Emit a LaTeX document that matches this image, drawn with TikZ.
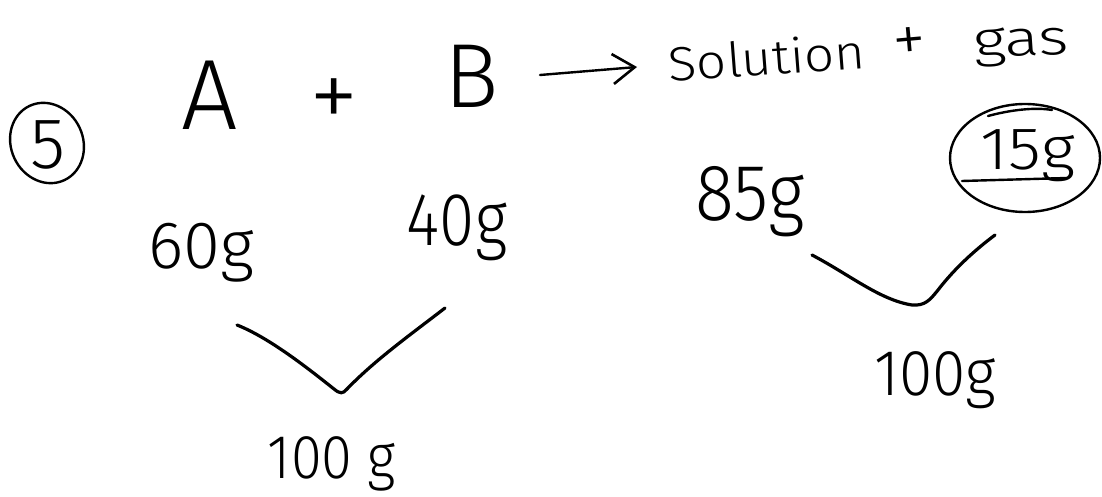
\documentclass[tikz,border=0pt]{standalone}
\usepackage{fontspec}
\setmainfont{Fira Sans}[UprightFont=* Light]
\usetikzlibrary{arrows.meta}
\newcommand\hwsize[1]{\fontsize{#1}{#1}\selectfont}
\tikzset{
  hw/.style={inner sep=0pt, outer sep=0pt, text=black},
  stroke/.style={line width=3.2pt, line cap=round, line join=round, black},
  thinstroke/.style={line width=2.4pt, line cap=round, line join=round, black},
}
\begin{document}
\begin{tikzpicture}[x=1pt,y=-1pt]
\useasboundingbox (0,0) rectangle (1102,497);
% question number
\node[hw, anchor=center, font=\hwsize{72}] (five) at (48,145) {5};
\draw[thinstroke, rotate around={25:(47,143)}] (47,143) ellipse [x radius=36, y radius=41];
% reaction
\node[hw, anchor=base, font=\hwsize{100}] (A) at (210,130) {A};
\node[hw, anchor=center, font=\hwsize{100}] (plus1) at (334,104) {+};
\node[hw, anchor=base, font=\hwsize{91}] (B) at (472,108) {B};
\node[hw, anchor=base, font=\hwsize{48}, xscale=1.1, rotate=4] (sol) at (768,75) {Solution};
\node[hw, anchor=center, font=\hwsize{68}, rotate=5] (plus2) at (910,45) {+};
\node[hw, anchor=base, font=\hwsize{50}, xscale=1.3, rotate=3] (gas) at (1022,56) {gas};
\coordinate (arS) at (540,75);
\coordinate (arE) at (637,67);
\draw[thinstroke, -{Straight Barb[length=22pt,width=30pt,line width=2.6pt]}] (arS) -- (arE);
% masses
\node[hw, anchor=base, font=\hwsize{67}] (m60) at (201,268) {60g};
\node[hw, anchor=base, font=\hwsize{75}, xscale=0.85] (m40) at (457,245) {40g};
\node[hw, anchor=base, font=\hwsize{62}, xscale=0.9] (m100a) at (332,478) {100 g};
\node[hw, anchor=base, font=\hwsize{80}, xscale=0.9] (m85) at (750,220) {85g};
\node[hw, anchor=base, font=\hwsize{60}, xscale=1.12] (m15) at (1028,170) {15g};
\node[hw, anchor=base, font=\hwsize{65}, xscale=0.93] (m100b) at (935,395) {100g};
% circle and underline round 15g
\draw[thinstroke] (1025,158) ellipse [x radius=75, y radius=54];
\draw[thinstroke] (988,116) .. controls (1010,110) and (1035,107) .. (1052,110);
\draw[thinstroke] (962,181) -- (1067,178);
% left V
\coordinate (vla) at (237,325);
\coordinate (vlb) at (340,393);
\coordinate (vlc) at (445,308);
\draw[stroke] (vla) .. controls (270,338) and (310,370) .. (334,389)
  .. controls (340,394) and (343,394) .. (347,389)
  .. controls (375,360) and (410,335) .. (vlc);
% right V
\coordinate (vra) at (812,255);
\coordinate (vrb) at (920,305);
\coordinate (vrc) at (995,235);
\draw[stroke] (vra) .. controls (850,275) and (880,300) .. (912,305)
  .. controls (925,306) and (930,300) .. (938,290)
  .. controls (955,268) and (975,250) .. (vrc);
\end{tikzpicture}
\end{document}
